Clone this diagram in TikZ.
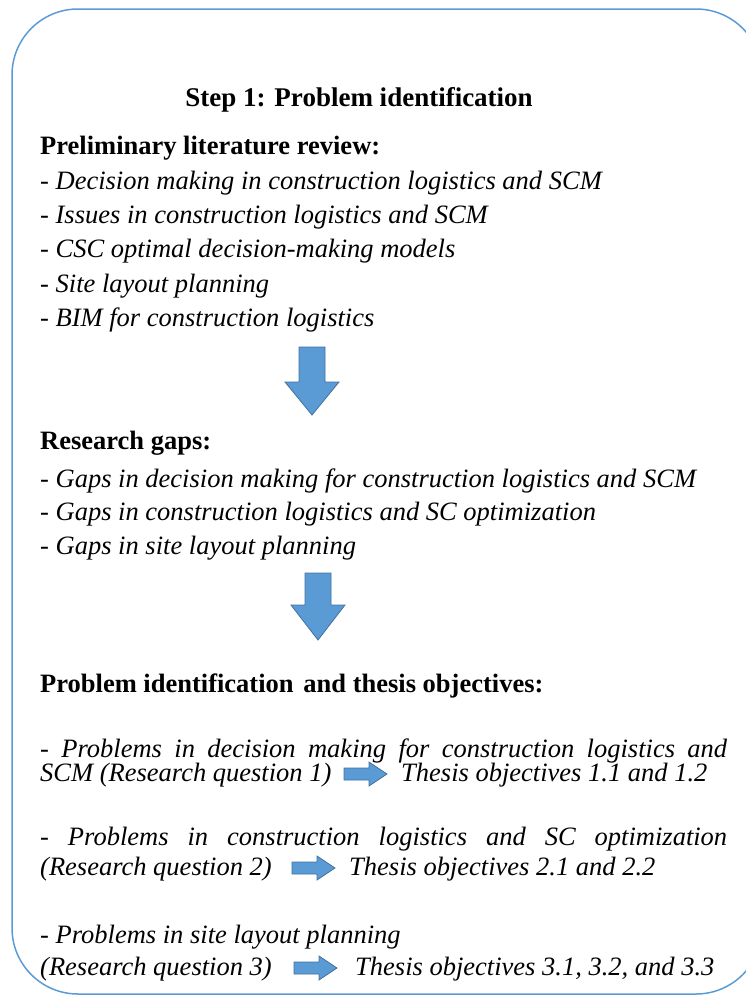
\documentclass[tikz,border=0pt]{standalone}
\usepackage{fontspec}
\setmainfont{Liberation Serif}
\definecolor{frameblue}{HTML}{5B9BD5}
\definecolor{arrowfill}{HTML}{5B9BD5}
\definecolor{arrowline}{HTML}{41719C}
\tikzset{
  frame/.style={draw=frameblue, line width=1.5pt, rounded corners=66pt},
  titletext/.style={anchor=base, inner sep=0pt, font=\fontsize{27}{30}\selectfont\bfseries},
  headtext/.style={anchor=base west, inner sep=0pt, font=\fontsize{26.5}{28}\selectfont\bfseries},
  itemtext/.style={anchor=base west, inner sep=0pt, font=\fontsize{26.5}{28}\selectfont\itshape},
  blockarrow/.style={fill=arrowfill, draw=arrowline, line width=0.8pt, line join=miter},
}
\begin{document}
\begin{tikzpicture}[x=1pt,y=-1pt]
\useasboundingbox (0,0) rectangle (746,996);
\clip (0,0) rectangle (746,996);

% outer frame (its right side runs past the page edge)
\draw[frame] (12,9) rectangle (762,994);

% title
\node[titletext] (title) at (359,106) {Step 1: Problem identification};

% preliminary literature review
\node[headtext] (prelim) at (40,154) {Preliminary literature review:};
\node[itemtext] (p1) at (40,189) {- Decision making in construction logistics and SCM};
\node[itemtext] (p2) at (40,223) {- Issues in construction logistics and SCM};
\node[itemtext] (p3) at (40,257) {- CSC optimal decision-making models};
\node[itemtext] (p4) at (40,292) {- Site layout planning};
\node[itemtext] (p5) at (40,326) {- BIM for construction logistics};

% first block arrow
\path[blockarrow] (299,347) -- (325,347) -- (325,382) -- (339,382) -- (312,415)
  -- (285,382) -- (299,382) -- cycle;

% research gaps
\node[headtext] (gaps) at (40,449) {Research gaps:};
\node[itemtext] (g1) at (40,487) {- Gaps in decision making for construction logistics and SCM};
\node[itemtext] (g2) at (40,520) {- Gaps in construction logistics and SC optimization};
\node[itemtext] (g3) at (40,554) {- Gaps in site layout planning};

% second block arrow
\path[blockarrow] (305,573) -- (331,573) -- (331,605) -- (345,605) -- (318,640)
  -- (291,605) -- (305,605) -- cycle;

% problems and objectives
\node[headtext] (probs) at (40,692) {Problem identification\hspace{0.12em} and thesis objectives:};

\node[itemtext] (q1a) at (40,757) {\makebox[687pt][s]{- Problems in decision making for construction logistics and}};
\node[itemtext] (q1b) at (40,781) {SCM (Research question 1)};
\path[blockarrow] (344,768) -- (369,768) -- (369,762) -- (387,774) -- (369,786)
  -- (369,780) -- (344,780) -- cycle;
\node[itemtext] (o1) at (401,781) {Thesis objectives 1.1 and 1.2};

\node[itemtext] (q2a) at (40,845) {\makebox[687pt][s]{- Problems in construction logistics and SC optimization}};
\node[itemtext] (q2b) at (40,875) {(Research question 2)};
\path[blockarrow] (292,862) -- (317,862) -- (317,856) -- (335,868) -- (317,880)
  -- (317,874) -- (292,874) -- cycle;
\node[itemtext] (o2) at (349,875) {Thesis objectives 2.1 and 2.2};

\node[itemtext] (q3a) at (40,943) {- Problems in site layout planning};
\node[itemtext] (q3b) at (40,975) {(Research question 3)};
\path[blockarrow] (294,962) -- (319,962) -- (319,956) -- (337,968) -- (319,980)
  -- (319,974) -- (294,974) -- cycle;
\node[itemtext] (o3) at (355,975) {Thesis objectives 3.1, 3.2, and 3.3};
\end{tikzpicture}
\end{document}
